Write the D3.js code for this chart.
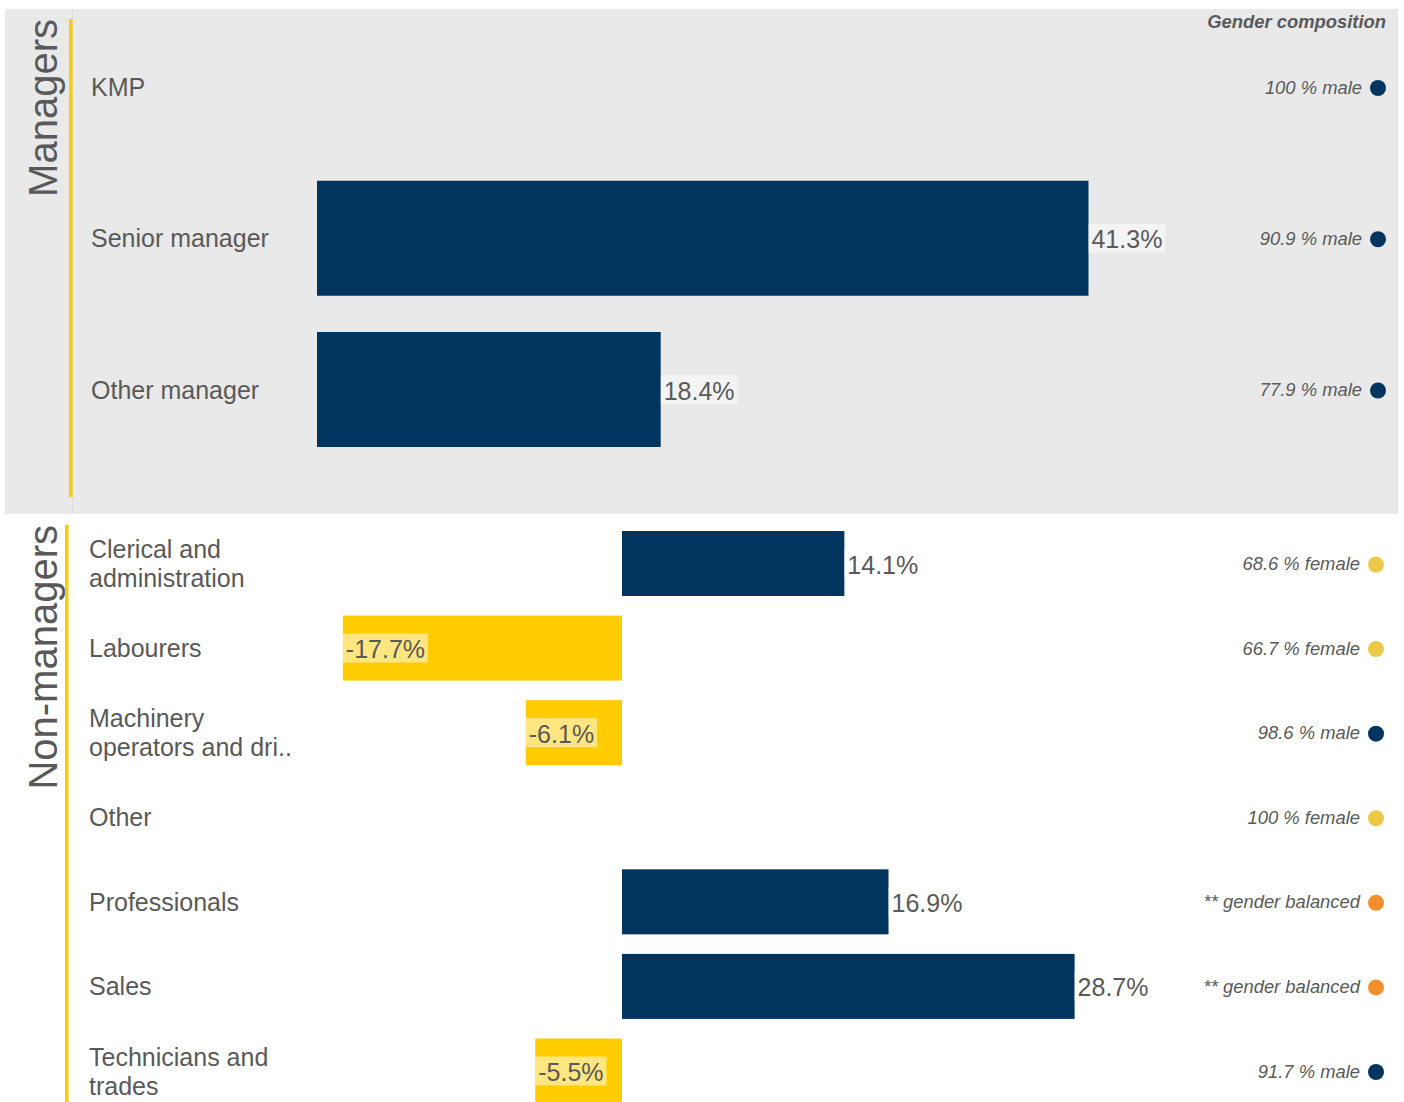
<!DOCTYPE html>
<html>
<head>
<meta charset="utf-8">
<script src="https://cdn.jsdelivr.net/npm/d3@7"></script>
<style>
  body { margin: 0; background: #fff; }
  text { font-family: "Liberation Sans", Arial, sans-serif; fill: #595959; }
</style>
</head>
<body>
<div id="chart"></div>
<script>
// managers panel
const mgrCats = ["KMP", "Senior manager", "Other manager"];
const mgrValues = [null, 41.3, 18.4];
const mgrGender = ["100 % male", "90.9 % male", "77.9 % male"];
const mgrGenderType = ["male", "male", "male"];

// non-managers panel
const nonCats = [["Clerical and", "administration"], ["Labourers"], ["Machinery", "operators and dri.."], ["Other"], ["Professionals"], ["Sales"], ["Technicians and", "trades"]];
const nonValues = [14.1, -17.7, -6.1, null, 16.9, 28.7, -5.5];
const nonGender = ["68.6 % female", "66.7 % female", "98.6 % male", "100 % female", "** gender balanced", "** gender balanced", "91.7 % male"];
const nonGenderType = ["female", "female", "male", "female", "balanced", "balanced", "male"];

const dotColor = { male: "#00355f", female: "#edc948", balanced: "#f28e2b" };
const navy = "#00355f", yellow = "#ffcc00";

// plain hyphen for negatives
const fmt = d3.formatLocale({ decimal: ".", thousands: ",", grouping: [3], currency: ["", ""], minus: "-" }).format(".1f");

const width = 1404, height = 1102;

const svg = d3.select("#chart")
  .append("svg")
  .attr("width", width)
  .attr("height", height);

// panel background
svg.append("rect")
  .attr("x", 5).attr("y", 9)
  .attr("width", 1393).attr("height", 505)
  .attr("fill", "#e9e9e9");
svg.append("line")
  .attr("x1", 72.5).attr("x2", 72.5).attr("y1", 9).attr("y2", 514)
  .attr("stroke", "#dcdcdc");

const drawPanel = (opts) => {
  const { cats, values, gender, types, yRange, barH, x, labelX, dotX, title, titleY, lineX, lineY } = opts;

  const y = d3.scalePoint()
    .domain(d3.range(cats.length))
    .range(yRange);

  // section title + yellow rule
  svg.append("text")
    .attr("transform", `translate(43, ${titleY}) rotate(-90)`)
    .attr("text-anchor", "end")
    .attr("dominant-baseline", "central")
    .style("font-size", "40px")
    .text(title);
  svg.append("rect")
    .attr("x", lineX).attr("y", lineY[0])
    .attr("width", 3.5).attr("height", lineY[1] - lineY[0])
    .attr("fill", yellow);

  // category labels
  cats.forEach((lines, i) => {
    const t = svg.append("text")
      .attr("x", labelX)
      .attr("y", y(i))
      .style("font-size", "25px");
    const n = [].concat(lines).length;
    [].concat(lines).forEach((l, j) => {
      t.append("tspan")
        .attr("x", labelX)
        .attr("y", y(i) + (j - (n - 1) / 2) * 29)
        .attr("dominant-baseline", "central")
        .text(l);
    });
  });

  // bars
  const data = values.map((v, i) => ({ v, i })).filter(d => d.v !== null);
  svg.selectAll(null)
    .data(data)
    .enter().append("rect")
    .attr("x", d => Math.min(x(0), x(d.v)))
    .attr("y", d => y(d.i) - barH / 2)
    .attr("width", d => Math.abs(x(d.v) - x(0)))
    .attr("height", barH)
    .attr("fill", d => d.v < 0 ? yellow : navy);

  // value labels, boxed
  data.forEach(d => {
    const x0 = x(d.v);
    const g = svg.append("g");
    const t = g.append("text")
      .attr("x", x0 + 3)
      .attr("y", y(d.i) + 1)
      .attr("dominant-baseline", "central")
      .style("font-size", "25px")
      .text(fmt(d.v) + "%");
    const w = t.node().getComputedTextLength();
    g.insert("rect", "text")
      .attr("x", x0)
      .attr("y", y(d.i) - 14.5)
      .attr("width", w + 6)
      .attr("height", 29)
      .attr("fill", "#fff")
      .attr("fill-opacity", 0.5);
  });

  // gender composition
  gender.forEach((g, i) => {
    svg.append("text")
      .attr("x", dotX - 16)
      .attr("y", y(i))
      .attr("text-anchor", "end")
      .attr("dominant-baseline", "central")
      .style("font-size", "18.4px")
      .style("font-style", "italic")
      .text(g);
    svg.append("circle")
      .attr("cx", dotX)
      .attr("cy", y(i) + 1)
      .attr("r", 8)
      .attr("fill", dotColor[types[i]]);
  });
};

// managers x scale (zero at bar origin)
const xTop = d3.scaleLinear()
  .domain([0, 45])
  .range([317, 317 + 45 * 18.68]);

// non-managers x scale
const xBottom = d3.scaleLinear()
  .domain([-20, 35])
  .range([622 - 20 * 15.77, 622 + 35 * 15.77]);

drawPanel({
  cats: mgrCats, values: mgrValues, gender: mgrGender, types: mgrGenderType,
  yRange: [87, 389.5], barH: 115, x: xTop, labelX: 91, dotX: 1378,
  title: "Managers", titleY: 19, lineX: 69, lineY: [19, 497]
});

drawPanel({
  cats: nonCats, values: nonValues, gender: nonGender, types: nonGenderType,
  yRange: [563.5, 1071], barH: 65, x: xBottom, labelX: 89, dotX: 1376,
  title: "Non-managers", titleY: 525, lineX: 65, lineY: [525, 1102]
});

// header
svg.append("text")
  .attr("x", 1386)
  .attr("y", 21)
  .attr("text-anchor", "end")
  .attr("dominant-baseline", "central")
  .style("font-size", "18.4px")
  .style("font-style", "italic")
  .style("font-weight", "bold")
  .text("Gender composition");
</script>
</body>
</html>
